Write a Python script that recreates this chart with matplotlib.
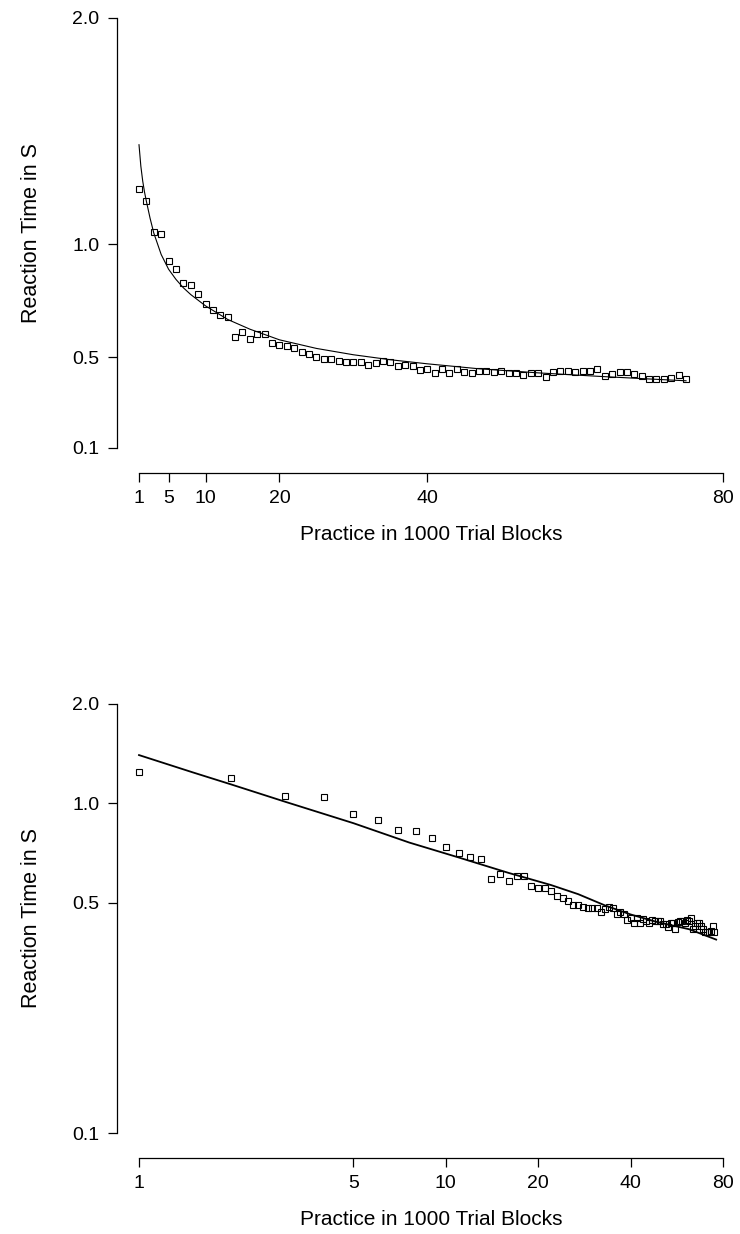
import matplotlib
matplotlib.use("Agg")
import matplotlib.pyplot as plt

plt.rcParams['font.family'] = ['Liberation Sans', 'DejaVu Sans']

# donnees (temps de reaction moyen par bloc de 1000 essais)
blocs = list(range(1, 76))
temps = [1.246, 1.19, 1.054, 1.046, 0.928, 0.891, 0.831, 0.822, 0.782, 0.736,
         0.708, 0.689, 0.677, 0.590, 0.611, 0.580, 0.602, 0.602, 0.562, 0.553,
         0.552, 0.541, 0.522, 0.515, 0.504, 0.493, 0.493, 0.485, 0.481, 0.481,
         0.481, 0.468, 0.477, 0.484, 0.481, 0.462, 0.468, 0.462, 0.444, 0.450,
         0.432, 0.450, 0.432, 0.447, 0.438, 0.432, 0.442, 0.439, 0.438, 0.439,
         0.431, 0.431, 0.422, 0.432, 0.432, 0.415, 0.437, 0.439, 0.439, 0.434,
         0.442, 0.439, 0.448, 0.417, 0.425, 0.434, 0.434, 0.425, 0.417, 0.407,
         0.406, 0.406, 0.411, 0.423, 0.406]

# courbe ajustee (panneau du haut, echelles lineaires)
ajust_lin_x = [1, 1.25, 1.5, 1.75, 2, 2.5, 3, 4, 5, 6, 7, 8, 10, 13, 16, 20, 25, 30, 35, 40,
               47, 55, 63, 70, 75]
ajust_lin_y = [1.44, 1.345, 1.28, 1.23, 1.19, 1.115, 1.05, 0.955, 0.89, 0.845, 0.808, 0.778,
               0.728, 0.668, 0.625, 0.578, 0.54, 0.512, 0.49, 0.472, 0.45, 0.432, 0.417,
               0.405, 0.397]

# courbe ajustee (panneau du bas, echelles log-log)
ajust_log_x = [1, 1.5, 2, 3, 5, 7.6, 11, 16, 22, 27, 33, 40, 48.5, 62, 76]
ajust_log_y = [1.40, 1.24, 1.14, 1.01, 0.87, 0.76, 0.685, 0.615, 0.565, 0.53, 0.49, 0.46,
               0.437, 0.415, 0.386]

x_ticks = [1, 5, 10, 20, 40, 80]
y_ticks = [0.1, 0.5, 1.0, 2.0]
y_labels = ['0.1', '0.5', '1.0', '2.0']

W, H = 740, 1234
fig = plt.figure(figsize=(W / 100, H / 100), dpi=100)

def axes_px(x0, x1, y_top, y_bot):
    # position d'un axe a partir de pixels
    return fig.add_axes([x0 / W, 1 - y_bot / H, (x1 - x0) / W, (y_bot - y_top) / H])

def style(ax):
    for s in ['top', 'right']:
        ax.spines[s].set_visible(False)
    ax.spines['left'].set_position(('outward', 16))
    ax.spines['bottom'].set_position(('outward', 18))
    ax.spines['left'].set_bounds(0.1, 2.0)
    ax.spines['bottom'].set_bounds(1, 80)
    ax.spines['left'].set_linewidth(0.9)
    ax.spines['bottom'].set_linewidth(0.9)
    ax.set_xticks(x_ticks)
    ax.set_xticklabels([str(t) for t in x_ticks])
    ax.set_yticks(y_ticks)
    ax.set_yticklabels(y_labels)
    ax.minorticks_off()
    ax.tick_params(direction='out', length=6.5, width=0.9, labelsize=14, pad=6)
    ax.set_xlabel('Practice in 1000 Trial Blocks', fontsize=15, labelpad=13)
    ax.set_ylabel('Reaction Time in S', fontsize=15.5, labelpad=22)
    ax.patch.set_visible(False)

# panneau du haut : echelles lineaires
ax1 = axes_px(139, 723, 18, 448)
ax1.plot(ajust_lin_x, ajust_lin_y, color='black', lw=0.8, clip_on=False)
ax1.plot(blocs, temps, 's', ms=4, mfc='none', mec='black', mew=0.8, clip_on=False)
ax1.set_xlim(1, 80)
ax1.set_ylim(0.1, 2.0)
style(ax1)

# panneau du bas : echelles log-log
ax2 = axes_px(139, 723, 704, 1133)
ax2.set_xscale('log')
ax2.set_yscale('log')
ax2.plot(ajust_log_x, ajust_log_y, color='black', lw=1.3, clip_on=False)
ax2.plot(blocs, temps, 's', ms=4, mfc='none', mec='black', mew=0.8, clip_on=False)
ax2.set_xlim(1, 80)
ax2.set_ylim(0.1, 2.0)
style(ax2)

fig.savefig('out.png', dpi=100)
